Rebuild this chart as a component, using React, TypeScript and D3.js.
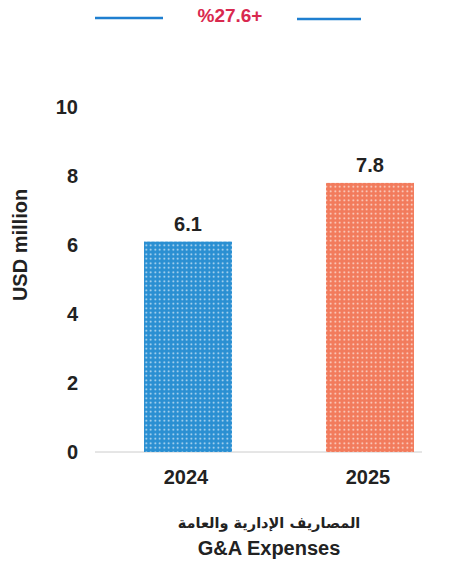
import React from "react";
import * as d3 from "d3";

const categories = ["2024", "2025"];
const values = [6.1, 7.8];
const valueLabels = ["6.1", "7.8"];
const yTicks = [0, 2, 4, 6, 8, 10];
const growthLabel = "%27.6+";
const titleAr = "المصاريف الإدارية والعامة";
const titleEn = "G&A Expenses";
const yTitle = "USD million";

const W = 455;
const H = 567;
const colors = ["#2a8fd2", "#f27b5c"];

export default function App() {
  const y = d3.scaleLinear().domain([0, 10]).range([452, 107]);
  const x = d3
    .scaleBand()
    .domain(categories)
    .range([89.4, 468.6])
    .paddingInner(0.5165)
    .paddingOuter(0.3);
  const font = "'Liberation Sans', Arial, 'DejaVu Sans', sans-serif";
  return (
    <svg width={W} height={H} style={{ position: "absolute", left: 0, top: 0 }} fontFamily={font}>
      <defs>
        {colors.map((c, i) => (
          <pattern key={i} id={"dots" + i} width={4.5} height={4.5} patternUnits="userSpaceOnUse">
            <rect width={4.5} height={4.5} fill={c} />
            <circle cx={2.25} cy={2.25} r={0.9} fill="#ffffff" opacity={0.8} />
          </pattern>
        ))}
      </defs>
      <rect width={W} height={H} fill="#fff" />
      {/* top growth indicator */}
      <line x1={95} x2={163} y1={18} y2={18} stroke="#1f7fd0" strokeWidth={2.5} />
      <line x1={297} x2={361} y1={19} y2={19} stroke="#1f7fd0" strokeWidth={2.5} />
      <text x={230} y={22} textAnchor="middle" fontSize={19} fontWeight="bold" fill="#d9294f">
        {growthLabel}
      </text>
      {/* y ticks */}
      {yTicks.map((t) => (
        <text key={t} x={78} y={y(t)} dy="0.36em" textAnchor="end" fontSize={20} fontWeight="bold" fill="#222">
          {t}
        </text>
      ))}
      <text
        transform={`translate(27,245) rotate(-90)`}
        textAnchor="middle"
        fontSize={20}
        fontWeight="bold"
        fill="#222"
      >
        {yTitle}
      </text>
      {/* baseline */}
      <line x1={95} x2={422} y1={y(0)} y2={y(0)} stroke="#cccccc" strokeWidth={1} />
      {/* bars */}
      {categories.map((c, i) => (
        <g key={c}>
          <rect
            x={x(c)!}
            y={y(values[i])}
            width={x.bandwidth()}
            height={y(0) - y(values[i])}
            fill={`url(#dots${i})`}
          />
          <text
            x={x(c)! + x.bandwidth() / 2}
            y={y(values[i]) - 11}
            textAnchor="middle"
            fontSize={20}
            fontWeight="bold"
            fill="#222"
          >
            {valueLabels[i]}
          </text>
          <text
            x={x(c)! + x.bandwidth() / 2 - 2}
            y={484}
            textAnchor="middle"
            fontSize={20}
            fontWeight="bold"
            fill="#222"
          >
            {c}
          </text>
        </g>
      ))}
      <text x={269} y={528} textAnchor="middle" fontSize={14.5} fontWeight="bold" fill="#222" fontFamily="'DejaVu Sans', 'Noto Sans', sans-serif" direction="rtl">
        {titleAr}
      </text>
      <text x={269} y={555} textAnchor="middle" fontSize={20} fontWeight="bold" fill="#222">
        {titleEn}
      </text>
    </svg>
  );
}
